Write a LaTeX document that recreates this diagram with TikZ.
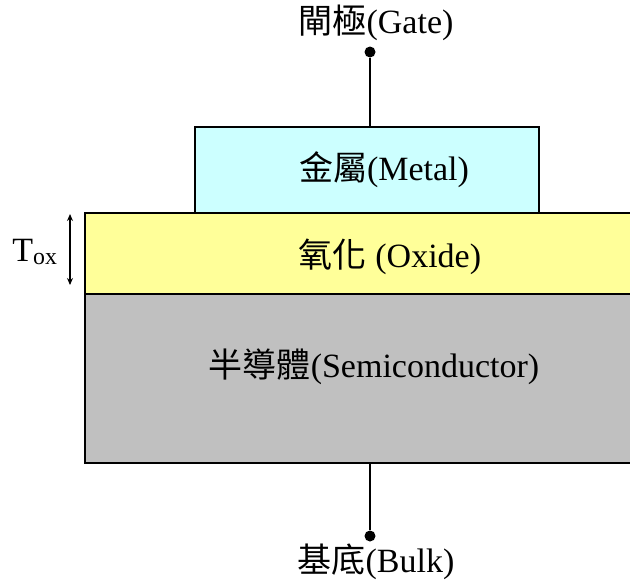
\documentclass[tikz,border=0pt]{standalone}
\usepackage{fontspec}
\setmainfont{Liberation Serif}
\newfontfamily\cjk{Noto Sans CJK TC}
\usetikzlibrary{positioning, arrows.meta}
\definecolor{metalfill}{RGB}{204,255,255}
\definecolor{oxidefill}{RGB}{255,255,153}
\definecolor{semifill}{RGB}{192,192,192}
\begin{document}
\begin{tikzpicture}[x=1pt, y=-1pt, font=\fontsize{34}{40}\selectfont,
        layer/.style={draw, line width=1.6pt, inner sep=0pt, anchor=north west},
        terminal/.style={circle, fill, inner sep=0pt, minimum size=11pt}]
        \useasboundingbox (0,0) rectangle (630,582);

        \node (Metal) [layer, fill=metalfill, minimum width=344pt, minimum height=86pt] at (194,126) {};
        \node (Oxide) [layer, fill=oxidefill, minimum width=560pt, minimum height=81pt] at (84,212) {};
        \node (Semi) [layer, fill=semifill, minimum width=560pt, minimum height=169pt] at (84,293) {};

        \node (MetalText) at (384,170) {{\cjk 金屬}(Metal)};
        \node (OxideText) at (390,257) {{\cjk 氧化} (Oxide)};
        \node (SemiText) at (374,367) {{\cjk 半導體}(Semiconductor)};

        \node (GateDot) [terminal] at (370,52) {};
        \node (Gate) at (376,23) {{\cjk 閘極}(Gate)};
        \node (BulkDot) [terminal] at (370,536) {};
        \node (Bulk) at (376,562) {{\cjk 基底}(Bulk)};

        \node (Tox) at (35,252) {T\textsubscript{ox}};
        \coordinate (ToxTop) at (70,214);
        \coordinate (ToxBottom) at (70,285);

        \draw[line width=1.6pt] (GateDot) -- (GateDot |- Metal.north);
        \draw[line width=1.6pt] (BulkDot) -- (BulkDot |- Semi.south);
        \draw[{Stealth[length=7pt,width=6pt]}-{Stealth[length=7pt,width=6pt]}, line width=1.2pt] (ToxTop) -- (ToxBottom);
    \end{tikzpicture}
\end{document}
